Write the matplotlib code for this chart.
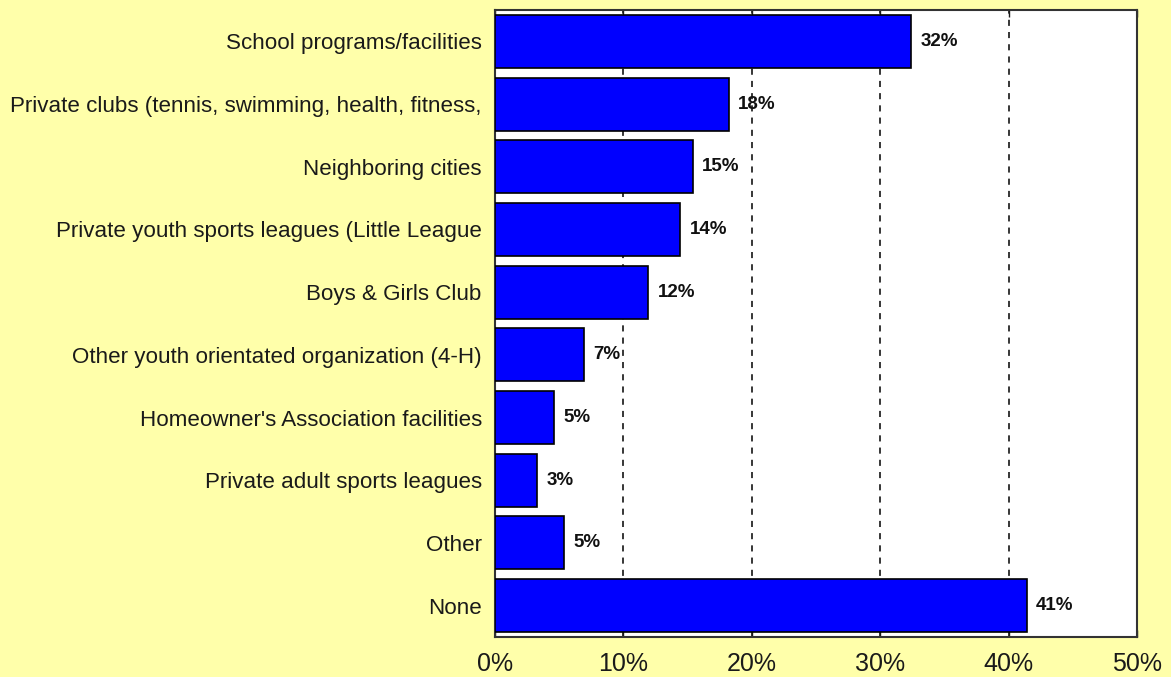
import matplotlib
matplotlib.use("Agg")
import matplotlib.pyplot as plt
from matplotlib.ticker import FuncFormatter

categories = [
    "School programs/facilities",
    "Private clubs (tennis, swimming, health, fitness,",
    "Neighboring cities",
    "Private youth sports leagues (Little League",
    "Boys & Girls Club",
    "Other youth orientated organization (4-H)",
    "Homeowner's Association facilities",
    "Private adult sports leagues",
    "Other",
    "None",
]
values = [32.4, 18.2, 15.4, 14.4, 11.9, 6.9, 4.6, 3.3, 5.4, 41.4]
x_ticks = [0, 10, 20, 30, 40, 50]

plt.rcParams["font.family"] = ["Liberation Sans", "DejaVu Sans"]

bg = "#FFFFAA"
fig = plt.figure(figsize=(11.71, 6.77), dpi=100, facecolor=bg)
ax = fig.add_axes([495 / 1171, 1 - 637 / 677, (1137 - 495) / 1171, (637 - 10) / 677])
ax.set_facecolor("white")

ypos = list(range(len(categories)))
ax.barh(ypos, values, height=0.845, color="#0000FF", edgecolor="black",
        linewidth=1.2, zorder=3)

for y, v in zip(ypos, values):
    ax.text(v + 0.75, y, f"{round(v):.0f}%", va="center", ha="left",
            fontsize=13.5, fontweight="bold", color="#111111", zorder=4)

ax.set_xlim(0, 50)
ax.set_ylim(len(categories) - 0.5, -0.5)
ax.set_xticks(x_ticks)
ax.xaxis.set_major_formatter(FuncFormatter(lambda v, _: f"{v:.0f}%"))
ax.set_yticks(ypos)
ax.set_yticklabels(categories, fontsize=16.1, color="#1a1a1a")

ax.tick_params(axis="x", direction="in", length=5, width=1, top=True,
               labelsize=18, pad=11, colors="#1a1a1a")
ax.tick_params(axis="y", length=0, pad=9.5)

for gx in x_ticks[1:-1]:
    ax.axvline(gx, color="black", linestyle=(0, (4, 4)), linewidth=1.1, zorder=1)

for s in ax.spines.values():
    s.set_color("#333333")
    s.set_linewidth(1.5)

fig.savefig("out.png", dpi=100, facecolor=bg)
